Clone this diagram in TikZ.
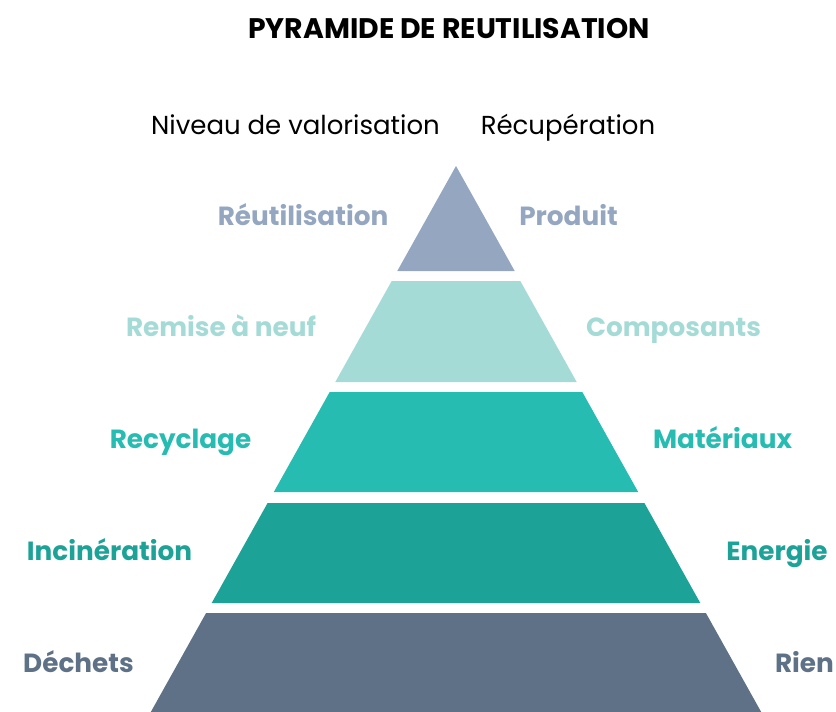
\documentclass[tikz,border=0pt]{standalone}
\usepackage{fontspec}
\setmainfont{Poppins}
\definecolor{cTop}{RGB}{148,166,192}
\definecolor{cTwo}{RGB}{165,219,214}
\definecolor{cThree}{RGB}{38,188,178}
\definecolor{cFour}{RGB}{29,162,152}
\definecolor{cFive}{RGB}{94,113,134}
\tikzset{
  lbl/.style={anchor=base, inner sep=0pt, font=\fontsize{26.3}{30}\selectfont\bfseries},
  sub/.style={anchor=base, inner sep=0pt, font=\fontsize{26}{30}\selectfont},
}
\begin{document}
\begin{tikzpicture}[x=1pt,y=-1pt]
\useasboundingbox (0,0) rectangle (836,712);
% tiers
\fill[cTop]   (456,166) -- (514.7,271) -- (397.3,271) -- cycle;
\fill[cTwo]   (391.7,281) -- (520.3,281) -- (576.7,382) -- (335.3,382) -- cycle;
\fill[cThree] (329.7,392) -- (582.3,392) -- (638.2,492) -- (273.8,492) -- cycle;
\fill[cFour]  (267.6,503) -- (644.4,503) -- (700.3,603) -- (211.7,603) -- cycle;
\fill[cFive]  (206.1,613) -- (705.9,613) -- (761.2,712) -- (150.8,712) -- cycle;
% title
\node[anchor=base, inner sep=0pt, font=\fontsize{28.3}{32}\selectfont\bfseries] (title) at (449,38) {PYRAMIDE DE REUTILISATION};
\node[sub] (niv) at (295.5,134) {Niveau de valorisation};
\node[sub] (rec) at (568,134) {Récupération};
% left labels
\node[lbl, text=cTop]   (l1) at (303,225) {Réutilisation};
\node[lbl, text=cTwo]   (l2) at (221,336) {Remise à neuf};
\node[lbl, text=cThree] (l3) at (180.5,448) {Recyclage};
\node[lbl, text=cFour]  (l4) at (109.5,560) {Incinération};
\node[lbl, text=cFive]  (l5) at (78.5,672) {Déchets};
% right labels
\node[lbl, text=cTop]   (r1) at (568.5,225) {Produit};
\node[lbl, text=cTwo]   (r2) at (673.5,336) {Composants};
\node[lbl, text=cThree] (r3) at (722.5,448) {Matériaux};
\node[lbl, text=cFour]  (r4) at (777,560) {Energie};
\node[lbl, text=cFive]  (r5) at (804.5,672) {Rien};
\end{tikzpicture}
\end{document}
